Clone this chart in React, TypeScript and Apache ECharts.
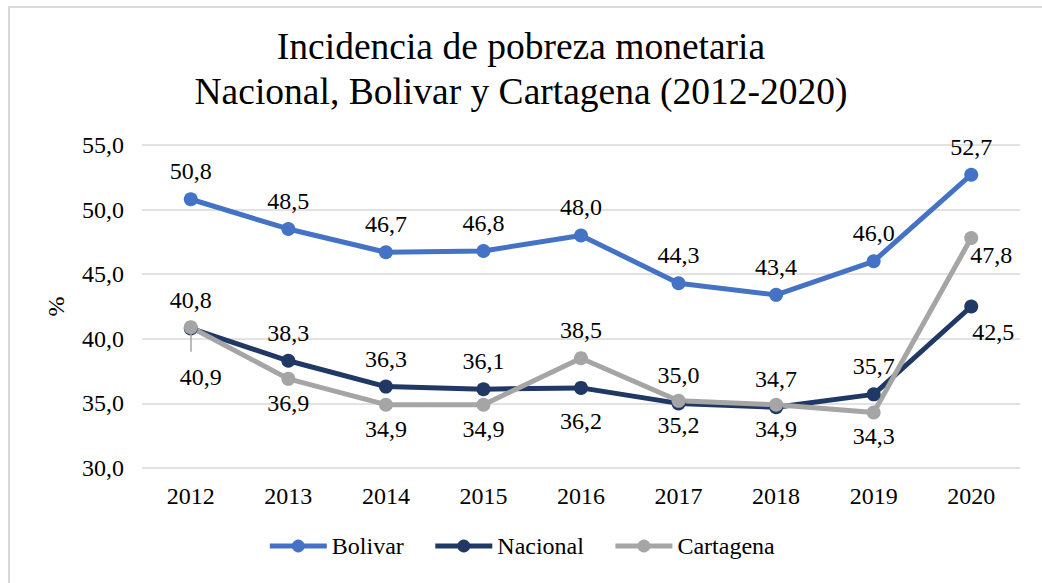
import React, { useEffect, useRef } from "react";
import * as echarts from "echarts";

const years = ["2012", "2013", "2014", "2015", "2016", "2017", "2018", "2019", "2020"];
const bolivar = [50.8, 48.5, 46.7, 46.8, 48.0, 44.3, 43.4, 46.0, 52.7];
const nacional = [40.8, 38.3, 36.3, 36.1, 36.2, 35.0, 34.7, 35.7, 42.5];
const cartagena = [40.9, 36.9, 34.9, 34.9, 38.5, 35.2, 34.9, 34.3, 47.8];
const titleLines = ["Incidencia de pobreza monetaria", "Nacional, Bolivar y Cartagena (2012-2020)"];

const FONT = "Liberation Serif";
const fmt = (v: number) => v.toFixed(1).replace(".", ",");

export default function App() {
  const ref = useRef<HTMLDivElement>(null);
  useEffect(() => {
    document.body.style.margin = "0";
    const chart = echarts.init(ref.current!, null, { renderer: "svg" });
    const lbl = { fontFamily: FONT, fontSize: 24, fontWeight: "normal", color: "#000" };
    const mkSeries = (name: string, data: number[], color: string, pos: string, special: Record<number, any>) => ({
      name,
      type: "line",
      data: data.map((v, i) => {
        const s = special[i];
        return s ? { value: v, label: s } : v;
      }),
      symbol: "circle",
      symbolSize: 14,
      itemStyle: { color },
      lineStyle: { color, width: 5 },
      label: {
        show: true,
        position: pos,
        distance: pos === "top" ? 9 : 5,
        formatter: (p: any) => fmt(p.value),
        ...lbl,
      },
    });
    const cart = mkSeries("Cartagena", cartagena, "#A5A5A5", "bottom", {
      0: { position: "inside", offset: [10, 50] },
      4: { position: "top", distance: 9 },
      8: { position: "inside", offset: [20, 17] },
    });
    const fixFonts = () => {
      const root = ref.current;
      if (!root) return;
      root.querySelectorAll("text").forEach((t) => {
        (t as SVGTextElement).style.setProperty("font-family", '"Liberation Serif", serif', "important");
        t.setAttribute("font-family", "Liberation Serif, serif");
      });
    };
    chart.on("finished", fixFonts);
    chart.setOption({
      animation: false,
      textStyle: { fontFamily: FONT, fontWeight: "normal" },
      graphic: [
        {
          type: "rect",
          shape: { x: 9, y: 7, width: 1100, height: 700 },
          style: { fill: "none", stroke: "#d9d9d9", lineWidth: 2 },
          silent: true,
        },
        ...titleLines.map((t, i) => ({
          type: "text",
          left: "center",
          top: 27 + i * 45,
          style: { text: t, fontFamily: FONT, fontSize: 37.5, fontWeight: "normal", fill: "#000" },
        })),
      ],
      legend: {
        bottom: 20,
        left: "center",
        itemWidth: 57,
        itemHeight: 16,
        itemGap: 29,
        lineStyle: { width: 5 },
        textStyle: { ...lbl },
        data: ["Bolivar", "Nacional", "Cartagena"],
      },
      grid: { left: 142, right: 22, top: 145, bottom: 115 },
      xAxis: {
        type: "category",
        data: years,
        boundaryGap: true,
        axisLine: { show: false },
        axisTick: { show: false },
        axisLabel: { ...lbl, margin: 16 },
      },
      yAxis: {
        type: "value",
        min: 30,
        max: 55,
        interval: 5,
        name: "%",
        nameLocation: "middle",
        nameRotate: 90,
        nameGap: 74,
        nameTextStyle: { ...lbl },
        axisLine: { show: false },
        axisTick: { show: false },
        axisLabel: { ...lbl, margin: 18, formatter: (v: number) => fmt(v) },
        splitLine: { lineStyle: { color: "#d9d9d9", width: 1.5 } },
      },
      series: [
        mkSeries("Bolivar", bolivar, "#4472C4", "top", {}),
        mkSeries("Nacional", nacional, "#1F3864", "top", {
          4: { position: "bottom", distance: 14 },
          8: { position: "inside", offset: [22, 25] },
        }),
        {
          ...cart,
          markLine: {
            silent: true,
            symbol: "none",
            label: { show: false },
            lineStyle: { color: "#A5A5A5", width: 1.5, type: "solid" },
            data: [[{ coord: ["2012", cartagena[0]] }, { coord: ["2012", 39.0] }]],
          },
        },
      ],
    });
    fixFonts();
    const t1 = setTimeout(fixFonts, 50);
    const t2 = setTimeout(fixFonts, 300);
    return () => {
      clearTimeout(t1);
      clearTimeout(t2);
      chart.dispose();
    };
  }, []);
  return <div ref={ref} style={{ width: 1042, height: 583, background: "#fff" }} />;
}
